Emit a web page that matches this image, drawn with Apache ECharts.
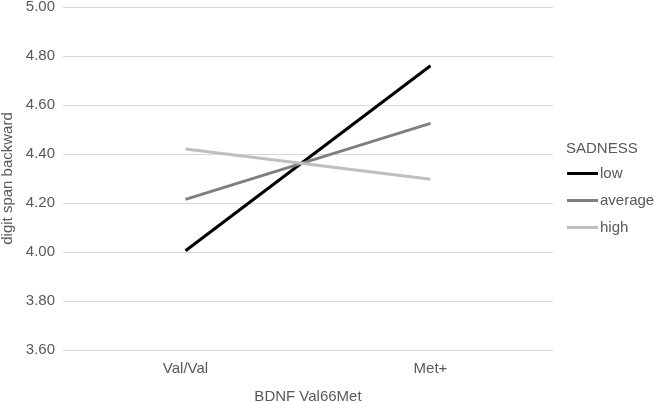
<!DOCTYPE html>
<html>
<head>
<meta charset="utf-8">
<script src="https://cdn.jsdelivr.net/npm/echarts@6/dist/echarts.min.js"></script>
<style>
  html, body { margin: 0; padding: 0; background: #fff; }
  #main { width: 657px; height: 402px; }
</style>
</head>
<body>
<div id="main"></div>
<script>
var categories = ['Val/Val', 'Met+'];
var lowValues = [4.005, 4.76];
var averageValues = [4.215, 4.525];
var highValues = [4.42, 4.297];
var seriesNames = ['low', 'average', 'high'];
var seriesColors = ['#000000', '#7f7f7f', '#bfbfbf'];

var chart = echarts.init(document.getElementById('main'));
var font = 'Liberation Sans, Arial, sans-serif';
var textColor = '#595959';

function makeSeries(name, data, color) {
    return {
        name: name,
        type: 'line',
        data: data,
        symbol: 'none',
        lineStyle: { color: color, width: 3 },
        itemStyle: { color: color },
        animation: false
    };
}

var option = {
    animation: false,
    title: {
        text: 'SADNESS',
        left: 566,
        top: 141,
        padding: 0,
        textStyle: { fontFamily: font, fontSize: 15, fontWeight: 'normal', color: textColor }
    },
    legend: {
        orient: 'vertical',
        left: 567,
        top: 166,
        padding: 0,
        itemWidth: 31,
        itemHeight: 3,
        itemGap: 12,
        icon: 'rect',
        data: seriesNames,
        textStyle: { fontFamily: font, fontSize: 15, color: textColor, padding: [0, 0, 0, -3] }
    },
    grid: { left: 63, right: 104, top: 7, bottom: 52, outerBoundsMode: 'none' },
    xAxis: {
        type: 'category',
        data: categories,
        name: 'BDNF Val66Met',
        nameLocation: 'middle',
        nameGap: 39,
        nameTextStyle: { fontFamily: font, fontSize: 15, color: textColor },
        axisLine: { show: false },
        axisTick: { show: false },
        axisLabel: { fontFamily: font, fontSize: 15, color: textColor, margin: 11 }
    },
    yAxis: {
        type: 'value',
        min: 3.6,
        max: 5.0,
        interval: 0.2,
        name: 'digit span backward',
        nameLocation: 'middle',
        nameGap: 43,
        nameTextStyle: { fontFamily: font, fontSize: 15, color: textColor },
        axisLine: { show: false },
        axisTick: { show: false },
        splitLine: { lineStyle: { color: '#d9d9d9', width: 1 } },
        axisLabel: {
            fontFamily: font, fontSize: 15, color: textColor, margin: 8,
            formatter: function (v) { return v.toFixed(2); }
        }
    },
    series: [
        makeSeries(seriesNames[0], lowValues, seriesColors[0]),
        makeSeries(seriesNames[1], averageValues, seriesColors[1]),
        makeSeries(seriesNames[2], highValues, seriesColors[2])
    ]
};
chart.setOption(option);
</script>
</body>
</html>
